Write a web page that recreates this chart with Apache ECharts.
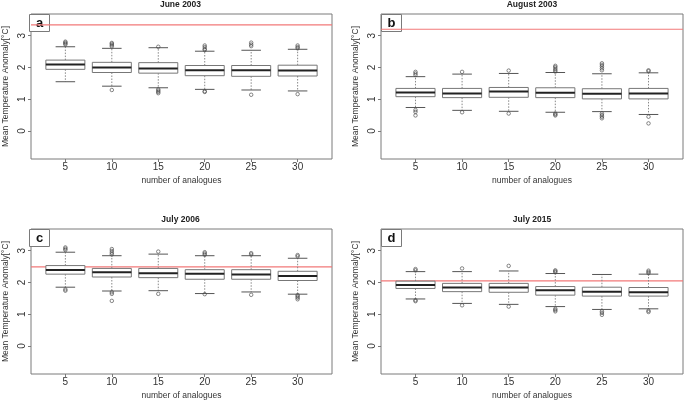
<!DOCTYPE html>
<html>
<head>
<meta charset="utf-8">
<script src="https://cdn.jsdelivr.net/npm/echarts@6/dist/echarts.min.js"></script>
<style>
html,body{margin:0;padding:0;background:#fff;}
#chart{width:685px;height:401px;}
</style>
</head>
<body>
<div id="chart"></div>
<script>
// ---- data ----
const analogues = [5, 10, 15, 20, 25, 30];
const panelTitles = ['June 2003', 'August 2003', 'July 2006', 'July 2015'];
const panelLetters = ['a', 'b', 'c', 'd'];
const observed = [3.34, 3.20, 2.49, 2.05];
const yTicks = [0, 1, 2, 3];

// [lower whisker, Q1, median, Q3, upper whisker] for each number of analogues
const june2003Box = [
  [1.55, 1.94, 2.09, 2.23, 2.65],
  [1.41, 1.84, 2.00, 2.16, 2.60],
  [1.36, 1.82, 1.97, 2.15, 2.62],
  [1.31, 1.74, 1.91, 2.06, 2.51],
  [1.29, 1.72, 1.91, 2.06, 2.54],
  [1.26, 1.73, 1.90, 2.07, 2.57]
];
const august2003Box = [
  [0.74, 1.08, 1.21, 1.34, 1.71],
  [0.65, 1.05, 1.18, 1.34, 1.79],
  [0.62, 1.06, 1.24, 1.37, 1.81],
  [0.59, 1.05, 1.20, 1.36, 1.84],
  [0.61, 1.01, 1.17, 1.33, 1.80],
  [0.52, 1.01, 1.18, 1.34, 1.83]
];
const july2006Box = [
  [1.85, 2.26, 2.39, 2.53, 2.95],
  [1.73, 2.17, 2.32, 2.44, 2.84],
  [1.74, 2.15, 2.29, 2.44, 2.89],
  [1.65, 2.10, 2.27, 2.40, 2.84],
  [1.70, 2.10, 2.25, 2.40, 2.84],
  [1.63, 2.06, 2.20, 2.35, 2.76]
];
const july2015Box = [
  [1.48, 1.81, 1.92, 2.04, 2.34],
  [1.34, 1.71, 1.84, 1.97, 2.34],
  [1.31, 1.69, 1.84, 1.97, 2.36],
  [1.24, 1.60, 1.75, 1.87, 2.28],
  [1.15, 1.57, 1.71, 1.85, 2.25],
  [1.17, 1.57, 1.69, 1.84, 2.26]
];

// outliers: [position index (1..6), value]
const june2003Out = [
  [1,2.72],[1,2.75],[1,2.78],[1,2.81],
  [2,2.66],[2,2.70],[2,2.74],[2,2.77],[2,1.29],
  [3,2.65],[3,1.31],[3,1.27],[3,1.23],[3,1.19],
  [4,2.55],[4,2.58],[4,2.64],[4,2.69],[4,1.25],[4,1.23],
  [5,2.67],[5,2.72],[5,2.78],[5,1.14],
  [6,2.60],[6,2.64],[6,2.69],[6,1.16]
];
const august2003Out = [
  [1,1.76],[1,1.81],[1,1.86],[1,0.66],[1,0.60],[1,0.49],
  [2,1.86],[2,0.59],
  [3,1.90],[3,0.55],
  [4,1.87],[4,1.91],[4,1.96],[4,2.01],[4,2.05],[4,0.55],[4,0.52],[4,0.49],
  [5,1.91],[5,1.97],[5,2.03],[5,2.08],[5,2.13],[5,0.55],[5,0.50],[5,0.45],[5,0.40],
  [6,1.88],[6,1.91],[6,0.45],[6,0.24]
];
const july2006Out = [
  [1,3.02],[1,3.06],[1,3.10],[1,1.78],[1,1.74],
  [2,2.88],[2,2.93],[2,2.99],[2,3.05],[2,1.69],[2,1.64],[2,1.42],
  [3,2.97],[3,1.64],
  [4,2.87],[4,2.91],[4,2.95],[4,1.63],
  [5,2.88],[5,2.92],[5,1.61],
  [6,2.82],[6,2.86],[6,1.60],[6,1.56],[6,1.52],[6,1.47]
];
const july2015Out = [
  [1,2.38],[1,2.42],[1,1.41],[1,1.44],
  [2,2.44],[2,1.28],
  [3,2.52],[3,1.24],
  [4,2.32],[4,2.35],[4,2.38],[4,1.17],[4,1.13],[4,1.09],
  [5,1.09],[5,1.04],[5,0.98],
  [6,2.29],[6,2.33],[6,2.37],[6,1.11],[6,1.07]
];

const boxes = [june2003Box, august2003Box, july2006Box, july2015Box];
const outs = [june2003Out, august2003Out, july2006Out, july2015Out];

// ---- layout ----
const grids = [
  {left: 29, top: 14, width: 303, height: 145},
  {left: 381, top: 14, width: 302, height: 145},
  {left: 29, top: 229, width: 303, height: 146},
  {left: 381, top: 229, width: 302, height: 146}
];
const xMin = 0.26, xMax = 6.74;
const frameColor = '#7a7a7a';
const textColor = '#333';
const font = 'Liberation Sans, Arial, Helvetica, sans-serif';
const positions = analogues.map((a, i) => i + 1);

function renderBox(params, api) {
  const x = api.value(0);
  const lo = api.value(1), q1 = api.value(2), med = api.value(3), q3 = api.value(4), hi = api.value(5);
  const halfBox = api.size([0.42, 0])[0];
  const halfCap = api.size([0.21, 0])[0];
  const pLo = api.coord([x, lo]);
  const pQ1 = api.coord([x, q1]);
  const pMed = api.coord([x, med]);
  const pQ3 = api.coord([x, q3]);
  const pHi = api.coord([x, hi]);
  const cx = pMed[0];
  const dash = {stroke: '#888', lineWidth: 1, lineDash: [1.5, 1.5]};
  const solid = {stroke: '#555', lineWidth: 1};
  return {
    type: 'group',
    children: [
      {type: 'line', shape: {x1: cx, y1: pQ3[1], x2: cx, y2: pHi[1]}, style: dash},
      {type: 'line', shape: {x1: cx, y1: pQ1[1], x2: cx, y2: pLo[1]}, style: dash},
      {type: 'line', shape: {x1: cx - halfCap, y1: pHi[1], x2: cx + halfCap, y2: pHi[1]}, style: solid},
      {type: 'line', shape: {x1: cx - halfCap, y1: pLo[1], x2: cx + halfCap, y2: pLo[1]}, style: solid},
      {type: 'rect', shape: {x: cx - halfBox, y: pQ3[1], width: 2 * halfBox, height: pQ1[1] - pQ3[1]},
        style: {fill: '#fff', stroke: '#777', lineWidth: 1}},
      {type: 'line', shape: {x1: cx - halfBox, y1: pMed[1], x2: cx + halfBox, y2: pMed[1]},
        style: {stroke: '#222', lineWidth: 2}}
    ]
  };
}

const option = {
  animation: false,
  backgroundColor: '#fff',
  title: grids.map((g, i) => ({
    text: panelTitles[i],
    left: g.left + g.width / 2,
    top: g.top - 14,
    textAlign: 'center',
    padding: 0,
    textStyle: {fontFamily: font, fontSize: 8.5, fontWeight: 'bold', color: '#222'}
  })),
  grid: grids.map(g => Object.assign({show: true, borderColor: frameColor, borderWidth: 1, backgroundColor: 'transparent'}, g)),
  xAxis: grids.map((g, i) => ({
    type: 'value',
    gridIndex: i,
    min: xMin,
    max: xMax,
    position: 'bottom',
    name: 'number of analogues',
    nameLocation: 'middle',
    nameGap: 17,
    nameTextStyle: {fontFamily: font, fontSize: 8.5, color: textColor},
    axisLine: {show: false, onZero: false},
    axisTick: {show: true, customValues: positions, length: 3, lineStyle: {color: frameColor}},
    axisLabel: {
      customValues: positions,
      formatter: v => String(analogues[Math.round(v) - 1]),
      margin: 3,
      fontFamily: font, fontSize: 10, color: textColor
    },
    splitLine: {show: false}
  })),
  yAxis: grids.map((g, i) => ({
    type: 'value',
    gridIndex: i,
    min: -0.88,
    max: 3.68,
    position: 'left',
    name: 'Mean Temperature Anomaly[°C]',
    nameLocation: 'middle',
    nameGap: 21,
    nameTextStyle: {fontFamily: font, fontSize: 8.5, color: textColor},
    axisLine: {show: false, onZero: false},
    axisTick: {show: true, customValues: yTicks, length: 3, lineStyle: {color: frameColor}},
    axisLabel: {
      customValues: yTicks,
      rotate: 90,
      margin: 4,
      fontFamily: font, fontSize: 10, color: textColor
    },
    splitLine: {show: false}
  })),
  series: [],
  graphic: []
};

for (let i = 0; i < 4; i++) {
  option.series.push({
    type: 'line',
    xAxisIndex: i,
    yAxisIndex: i,
    silent: true,
    symbol: 'none',
    lineStyle: {color: '#f27878', width: 1.2},
    data: [[xMin, observed[i]], [xMax, observed[i]]],
    z: 2
  });
  option.series.push({
    type: 'custom',
    xAxisIndex: i,
    yAxisIndex: i,
    renderItem: renderBox,
    encode: {x: 0, y: [1, 2, 3, 4, 5]},
    data: boxes[i].map((b, k) => [positions[k]].concat(b)),
    z: 3
  });
  option.series.push({
    type: 'scatter',
    xAxisIndex: i,
    yAxisIndex: i,
    symbol: 'circle',
    symbolSize: 3.5,
    itemStyle: {color: 'rgba(0,0,0,0)', borderColor: '#444', borderWidth: 0.8},
    data: outs[i],
    z: 4
  });
  const g = grids[i];
  option.graphic.push({
    type: 'group',
    z: 100,
    left: g.left,
    top: g.top,
    children: [
      {type: 'rect', shape: {x: 0, y: 0, width: 20, height: 17}, style: {fill: '#fff', stroke: frameColor, lineWidth: 1}},
      {type: 'text', x: 10, y: 9, style: {text: panelLetters[i], fill: '#111', font: 'bold 13px ' + font, align: 'center', verticalAlign: 'middle'}}
    ]
  });
}

const chart = echarts.init(document.getElementById('chart'), null, {renderer: 'canvas'});
chart.setOption(option);
</script>
</body>
</html>
